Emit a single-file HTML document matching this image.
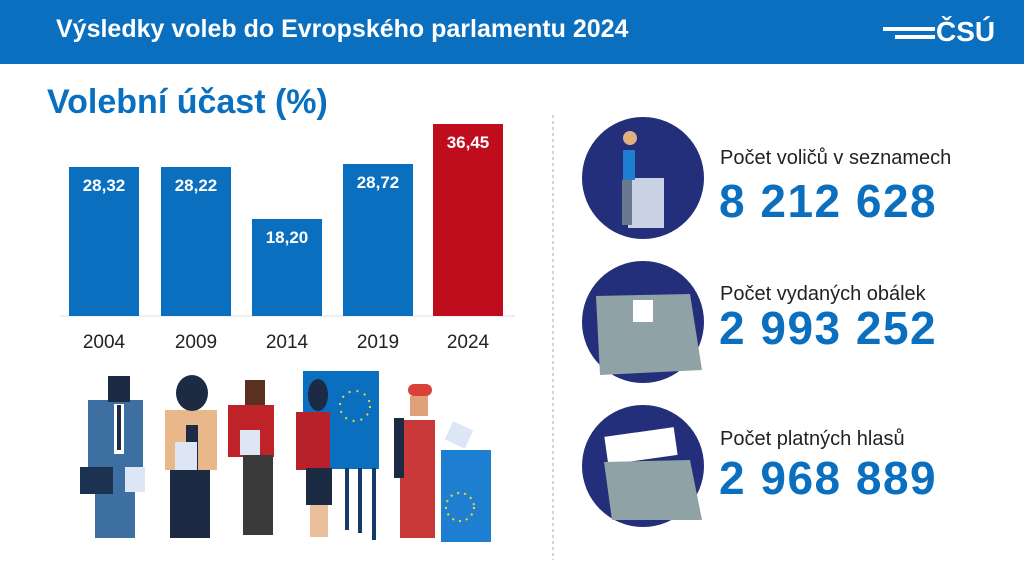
<!DOCTYPE html>
<html><head><meta charset="utf-8"><style>
body{margin:0;width:1024px;height:576px;overflow:hidden;background:#fff;font-family:"Liberation Sans",sans-serif;position:relative}
.hdr{position:absolute;left:0;top:0;width:1024px;height:64px;background:#0a6fbe}
.abs{position:absolute;white-space:nowrap}
</style></head><body>
<div class="hdr"></div>
<div class="abs" style="left:56px;top:15px;color:#fff;font-size:25px;font-weight:bold">Výsledky voleb do Evropského parlamentu 2024</div>
<div class="abs" style="left:936px;top:16px;color:#fff;font-size:28px;font-weight:bold">ČSÚ</div>
<div class="abs" style="left:883px;top:27px;width:52px;height:4px;background:#fff"></div>
<div class="abs" style="left:895px;top:35px;width:40px;height:4px;background:#fff"></div>
<div class="abs" style="left:47px;top:83px;color:#0a6fbe;font-size:34px;font-weight:bold">Volební účast (%)</div>
<svg class="abs" style="left:0;top:0" width="1024" height="576">
<line x1="553" y1="115" x2="553" y2="560" stroke="#aaa" stroke-dasharray="3,3"/>
<line x1="60" y1="316" x2="515" y2="316" stroke="#ddd"/>
<g fill="#0a6fbe"><rect x="69" y="167" width="70" height="149"/><rect x="161" y="167" width="70" height="149"/><rect x="252" y="219" width="70" height="97"/><rect x="343" y="164" width="70" height="152"/></g>
<rect x="433" y="124" width="70" height="192" fill="#c00d1e"/>
<g fill="#fff" font-size="17" font-weight="bold" text-anchor="middle"><text x="104" y="191">28,32</text><text x="196" y="191">28,22</text><text x="287" y="243">18,20</text><text x="378" y="188">28,72</text><text x="468" y="148">36,45</text></g>
<g fill="#222" font-size="19" text-anchor="middle"><text x="104" y="348">2004</text><text x="196" y="348">2009</text><text x="287" y="348">2014</text><text x="378" y="348">2019</text><text x="468" y="348">2024</text></g>
<rect x="88" y="400" width="55" height="70" fill="#3d6fa3"/><rect x="95" y="470" width="40" height="68" fill="#3d6fa3"/><rect x="108" y="376" width="22" height="26" fill="#1d2a44"/><rect x="114" y="404" width="10" height="50" fill="#fff"/><rect x="117" y="405" width="4" height="45" fill="#1d2a44"/><rect x="80" y="467" width="33" height="27" fill="#1d3250"/><rect x="125" y="467" width="20" height="25" fill="#dde6f5"/>
<rect x="165" y="410" width="52" height="60" fill="#e9b88a"/><rect x="186" y="425" width="12" height="50" fill="#1d2a44"/><rect x="170" y="470" width="40" height="68" fill="#1d2a44"/><ellipse cx="192" cy="393" rx="16" ry="18" fill="#1d2a44"/><rect x="175" y="442" width="22" height="28" fill="#dde6f5"/>
<rect x="228" y="405" width="46" height="52" fill="#c0222a"/><rect x="243" y="455" width="30" height="80" fill="#3a3a3a"/><rect x="245" y="380" width="20" height="25" fill="#5a3020"/><rect x="240" y="430" width="20" height="25" fill="#dde6f5"/>
<rect x="303" y="371" width="76" height="98" fill="#0a6fbe"/><g fill="#123a6a"><rect x="345" y="468" width="4" height="62"/><rect x="358" y="468" width="4" height="65"/><rect x="372" y="468" width="4" height="72"/></g>
<rect x="296" y="412" width="34" height="58" fill="#b8202a"/><rect x="306" y="468" width="26" height="37" fill="#1d2a44"/><rect x="310" y="505" width="18" height="32" fill="#e9c09a"/><ellipse cx="318" cy="395" rx="10" ry="16" fill="#1d2a44"/>
<circle cx="355" cy="406" r="15" fill="none" stroke="#f5d23a" stroke-width="2" stroke-dasharray="2,6"/>
<rect x="400" y="420" width="35" height="118" fill="#c9393a"/><rect x="394" y="418" width="10" height="60" fill="#1d2a44"/><rect x="408" y="384" width="24" height="12" rx="6" fill="#d9413a"/><rect x="410" y="396" width="18" height="20" fill="#e0a07a"/>
<rect x="441" y="450" width="50" height="92" fill="#1e7fd0"/><rect x="448" y="425" width="22" height="20" fill="#dde6f5" transform="rotate(25 459 435)"/>
<circle cx="460" cy="507" r="14" fill="none" stroke="#f5d23a" stroke-width="2" stroke-dasharray="2,5"/>
<circle cx="643" cy="178" r="61" fill="#232f7a"/><rect x="628" y="178" width="36" height="50" fill="#c9d2e4"/><rect x="623" y="150" width="12" height="30" fill="#1e7fd0"/><rect x="622" y="180" width="10" height="45" fill="#6a7890"/><circle cx="630" cy="138" r="7" fill="#e0b080"/>
<circle cx="643" cy="322" r="61" fill="#232f7a"/><path d="M596 296 L690 294 L702 370 L600 375 Z" fill="#8fa3a6"/><rect x="633" y="300" width="20" height="22" fill="#fff"/>
<circle cx="643" cy="466" r="61" fill="#232f7a"/><rect x="606" y="432" width="70" height="28" fill="#fff" transform="rotate(-8 640 446)"/><path d="M604 462 L690 460 L702 520 L612 520 Z" fill="#8fa3a6"/>
<g fill="#222" font-size="20"><text x="720" y="164">Počet voličů v seznamech</text><text x="720" y="300">Počet vydaných obálek</text><text x="720" y="445">Počet platných hlasů</text></g>
<g fill="#0a6fbe" font-size="46" font-weight="bold" letter-spacing="1.5"><text x="719" y="217">8 212 628</text><text x="719" y="344">2 993 252</text><text x="719" y="494">2 968 889</text></g>
</svg>
</body></html>
